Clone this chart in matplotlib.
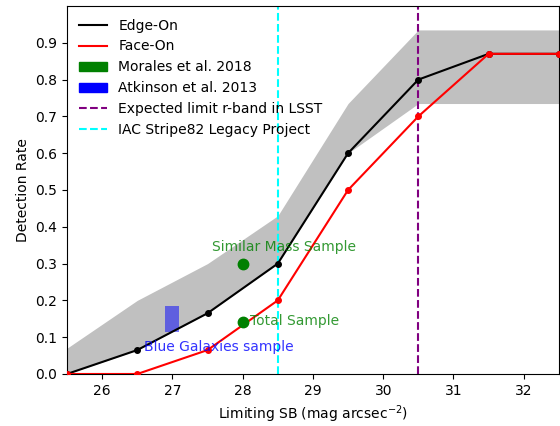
import matplotlib
matplotlib.use("Agg")
import matplotlib.pyplot as plt
import matplotlib.patches as patches
from matplotlib.lines import Line2D

# data
sb = [25.5, 26.5, 27.5, 28.5, 29.5, 30.5, 31.5, 32.5]
edge_on = [0.0, 0.065, 0.165, 0.30, 0.60, 0.80, 0.87, 0.87]
face_on = [0.0, 0.0, 0.065, 0.20, 0.50, 0.70, 0.87, 0.87]
band_low = [0.0, 0.065, 0.165, 0.30, 0.60, 0.735, 0.735, 0.735]
band_high = [0.07, 0.20, 0.30, 0.43, 0.735, 0.935, 0.935, 0.935]

morales_x = [28.0, 28.0]
morales_y = [0.30, 0.14]
morales_labels = ["Similar Mass Sample", "Total Sample"]

atkinson_x = (26.9, 27.1)
atkinson_y = (0.115, 0.185)

lsst_limit = 30.5
iac_limit = 28.5

fig = plt.figure(figsize=(5.6, 4.26), dpi=100)
ax = fig.add_axes([0.1196, 0.1221, 0.8784, 0.8638])

ax.fill_between(sb, band_low, band_high, color="#c0c0c0", lw=0, zorder=1)
ax.plot(sb, edge_on, color="black", lw=1.5, marker="o", ms=4, zorder=3)
ax.plot(sb, face_on, color="red", lw=1.5, marker="o", ms=4, zorder=3)

ax.axvline(lsst_limit, color="purple", ls="--", lw=1.5, zorder=2)
ax.axvline(iac_limit, color="cyan", ls="--", lw=1.5, zorder=2)

# Morales et al. 2018
ax.plot(morales_x, morales_y, "o", color="green", ms=7.5, zorder=4)
ax.text(27.57, 0.345, morales_labels[0], color="green", alpha=0.8, fontsize=10, va="center")
ax.text(28.1, 0.144, morales_labels[1], color="green", alpha=0.8, fontsize=10, va="center")

# Atkinson et al. 2013
ax.add_patch(patches.Rectangle((atkinson_x[0], atkinson_y[0]),
                               atkinson_x[1] - atkinson_x[0], atkinson_y[1] - atkinson_y[0],
                               facecolor="blue", alpha=0.5, lw=0, zorder=2))
ax.text(26.6, 0.073, "Blue Galaxies sample", color="blue", alpha=0.8, fontsize=10, va="center")

handles = [
    Line2D([], [], color="black", lw=1.5),
    Line2D([], [], color="red", lw=1.5),
    patches.Patch(color="green"),
    patches.Patch(color="blue"),
    Line2D([], [], color="purple", ls="--", lw=1.5),
    Line2D([], [], color="cyan", ls="--", lw=1.5),
]
labels = ["Edge-On", "Face-On", "Morales et al. 2018", "Atkinson et al. 2013",
          "Expected limit r-band in LSST", "IAC Stripe82 Legacy Project"]
ax.legend(handles, labels, loc="upper left", frameon=False, fontsize=10)

ax.set_xlim(25.5, 32.5)
ax.set_ylim(0, 1.0)
ax.set_xticks([26, 27, 28, 29, 30, 31, 32])
ax.set_yticks([0.0, 0.1, 0.2, 0.3, 0.4, 0.5, 0.6, 0.7, 0.8, 0.9])
ax.set_xlabel("Limiting SB (mag arcsec$^{-2}$)")
ax.set_ylabel("Detection Rate")

fig.savefig("out.png", dpi=100)
